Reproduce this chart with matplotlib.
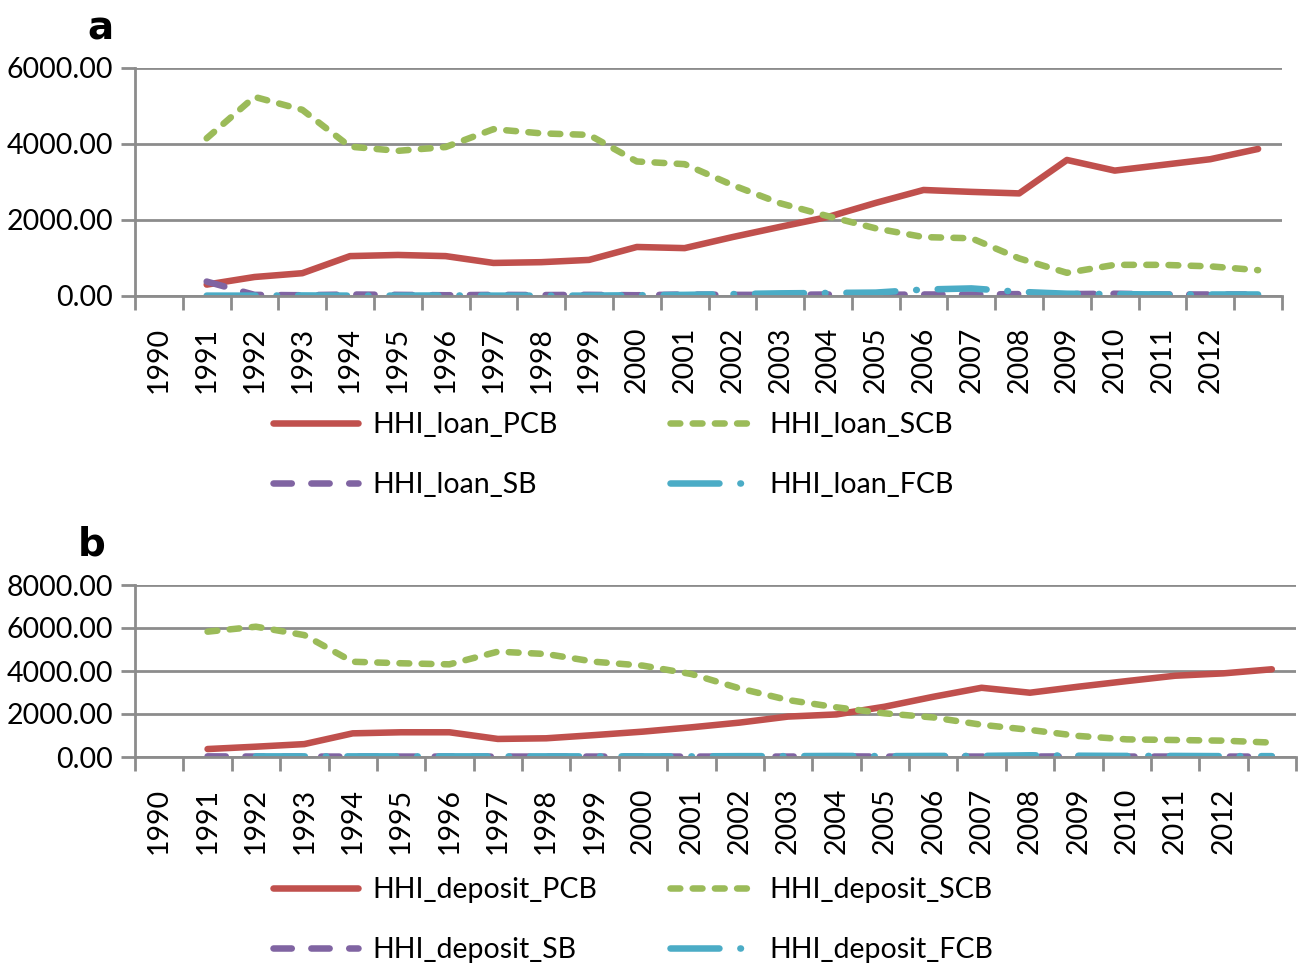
import numpy as np
import matplotlib
matplotlib.use("Agg")
import matplotlib.pyplot as plt

plt.rcParams['font.family'] = ['Lato', 'DejaVu Sans']

# kategorie na osi x (posledna bez popisu, ako v povodnom grafe)
cat_labels = ['1990', '1991', '1992', '1993', '1994', '1995', '1996', '1997',
              '1998', '1999', '2000', '2001', '2002', '2003', '2004', '2005',
              '2006', '2007', '2008', '2009', '2010', '2011', '2012', '']

# hodnoty pre kategorie 2..24 (23 bodov)
loan_pcb = [300, 500, 600, 1050, 1080, 1050, 870, 890, 950, 1290, 1260, 1550,
            1820, 2080, 2450, 2790, 2740, 2700, 3580, 3300, 3450, 3600, 3870]
loan_scb = [4150, 5240, 4900, 3930, 3820, 3920, 4390, 4280, 4240, 3540, 3470,
            2920, 2440, 2100, 1780, 1550, 1520, 990, 610, 820, 820, 780, 680]
loan_sb = [380, 30, 20, 40, 30, 20, 30, 25, 30, 20, 40, 30, 30, 40, 30, 40,
           40, 50, 50, 60, 40, 40, 40]
loan_fcb = [10, 10, 15, 10, 10, 15, 10, 10, 10, 20, 30, 50, 70, 80, 90, 170,
            200, 110, 60, 50, 40, 40, 40]

dep_pcb = [370, 480, 600, 1100, 1150, 1150, 840, 870, 1020, 1180, 1380, 1600,
           1880, 1980, 2340, 2800, 3220, 2990, 3270, 3530, 3780, 3890, 4080]
dep_scb = [5830, 6060, 5670, 4430, 4360, 4310, 4900, 4790, 4430, 4250, 3860,
           3190, 2650, 2310, 2030, 1840, 1500, 1260, 980, 820, 790, 760, 670]
dep_sb = [30, 20, 20, 20, 20, 20, 20, 20, 20, 20, 20, 20, 20, 30, 20, 20, 20,
          20, 30, 20, 20, 20, 20]
dep_fcb = [np.nan, 30, 30, 30, 30, 30, 30, 30, 30, 30, 30, 40, 40, 50, 40, 50,
           50, 80, 60, 50, 50, 40, 40]

RED = '#C0504D'
GREEN = '#9BBB59'
PURPLE = '#8064A2'
CYAN = '#4BACC6'
GRAY = '#8C8C8C'
LW = 4.7
FS = 20.5

fig = plt.figure(figsize=(13, 9.67), dpi=100)
ax_a = fig.add_axes([135 / 1300, 1 - 296 / 967, (1282 - 135) / 1300, (296 - 68) / 967])
ax_b = fig.add_axes([135 / 1300, 1 - 757 / 967, (1296 - 135) / 1300, (757 - 585) / 967])

x = np.arange(1, 24) + 0.5


def draw(ax, pcb, scb, sb, fcb, names, ymax, leg_top):
    h1, = ax.plot(x, pcb, color=RED, lw=LW, solid_capstyle='round')
    h2, = ax.plot(x, scb, color=GREEN, lw=LW, dashes=(1.5, 1.9),
                  dash_capstyle='round')
    h3, = ax.plot(x, sb, color=PURPLE, lw=LW, dashes=(2.8, 3.0),
                  dash_capstyle='round')
    h4, = ax.plot(x, fcb, color=CYAN, lw=LW, dashes=(7.5, 3.2, 0.1, 3.2),
                  dash_capstyle='round')

    ax.set_xlim(0, 24)
    ax.set_ylim(0, ymax)
    ax.set_yticks(np.arange(0, ymax + 1, 2000))
    ax.set_yticklabels(['%.2f' % v for v in np.arange(0, ymax + 1, 2000)], fontsize=FS)
    ax.grid(axis='y', color=GRAY, lw=2)
    ax.set_axisbelow(True)

    ax.set_xticks(np.arange(24) + 0.5)
    ax.set_xticklabels(cat_labels, rotation=90, fontsize=FS)
    ax.set_xticks(np.arange(25), minor=True)
    ax.tick_params(axis='x', which='major', length=0, pad=22)
    ax.tick_params(axis='x', which='minor', length=10, width=2, color=GRAY)
    ax.tick_params(axis='y', length=10, width=2, color=GRAY, pad=6)

    for s in ['top', 'right']:
        ax.spines[s].set_visible(False)
    for s in ['left', 'bottom']:
        ax.spines[s].set_color(GRAY)
        ax.spines[s].set_linewidth(2)

    # legenda: dva stlpce, kazdy zvlast aby boli zarovnane
    for handles, labels, xl in [([h1, h3], [names[0], names[2]], 273),
                                ([h2, h4], [names[1], names[3]], 670)]:
        fig.legend(handles, labels, loc='upper left',
                   bbox_to_anchor=(xl / 1300, 1 - leg_top / 967),
                   frameon=False, fontsize=FS, handlelength=3.0, handletextpad=0.5,
                   labelspacing=1.2, borderpad=0, borderaxespad=0)


draw(ax_a, loan_pcb, loan_scb, loan_sb, loan_fcb,
     ['HHI_loan_PCB', 'HHI_loan_SCB', 'HHI_loan_SB', 'HHI_loan_FCB'], 6000, 412)
draw(ax_b, dep_pcb, dep_scb, dep_sb, dep_fcb,
     ['HHI_deposit_PCB', 'HHI_deposit_SCB', 'HHI_deposit_SB', 'HHI_deposit_FCB'], 8000, 877)

fig.text(100 / 1300, 1 - 28 / 967, 'a', fontsize=28, fontweight='bold',
         family='DejaVu Sans', ha='center', va='center')
fig.text(92 / 1300, 1 - 545 / 967, 'b', fontsize=28, fontweight='bold',
         family='DejaVu Sans', ha='center', va='center')

fig.savefig('out.png', dpi=100)
